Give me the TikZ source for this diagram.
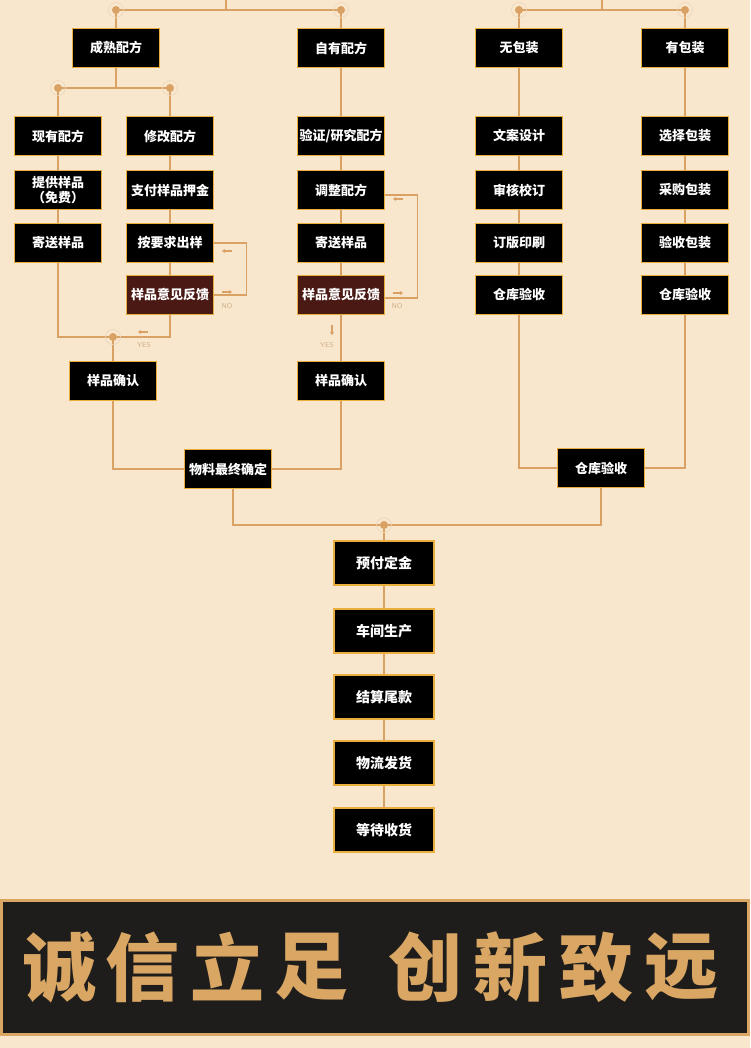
\documentclass[tikz,border=0pt]{standalone}
\usepackage{fontspec}
\newfontfamily\cjk{Noto Sans CJK SC}
\usetikzlibrary{positioning, calc, arrows.meta}

\definecolor{pagebg}{HTML}{F8E7CD}
\definecolor{linkc}{HTML}{D9A264}
\definecolor{boxedge}{HTML}{E9AE3C}
\definecolor{fbred}{HTML}{4A1914}
\definecolor{markc}{HTML}{CFAE86}
\definecolor{bannerbg}{HTML}{1E1D1B}
\definecolor{goldc}{HTML}{D9A664}

\tikzset{
    stepbox/.style={draw=boxedge, fill=black, line width=1.2pt,
        minimum width=87pt, minimum height=39pt, inner sep=0pt,
        text=white, align=center,
        font=\cjk\bfseries\fontsize{13}{14.5}\selectfont},
    fbbox/.style={stepbox, fill=fbred},
    endbox/.style={stepbox, minimum width=100pt, minimum height=44pt,
        font=\cjk\bfseries\fontsize{14}{16}\selectfont},
    link/.style={draw=linkc, line width=1.6pt},
    tick/.style={draw=linkc, line width=1.3pt, -{Stealth[length=3pt,width=4pt]}},
    ynlabel/.style={text=markc, font=\sffamily\fontsize{7}{8}\selectfont}
}

\begin{document}
\begin{tikzpicture}[x=1pt, y=-1pt]

    % Background
    \fill[pagebg] (0,0) rectangle (750,1048);
    \useasboundingbox (0,0) rectangle (750,1048);

    % Formula side
    \node[stepbox] (mature) at (116,48) {成熟配方};
    \node[stepbox] (own)    at (341,48) {自有配方};

    \node[stepbox] (have)   at (58,136)  {现有配方};
    \node[stepbox] (freeS)  at (58,190)  {提供样品\\（免费）};
    \node[stepbox] (sendA)  at (58,243)  {寄送样品};

    \node[stepbox] (modify) at (170,136) {修改配方};
    \node[stepbox] (deposit) at (170,190) {支付样品押金};
    \node[stepbox] (makeA)  at (170,243) {按要求出样};
    \node[fbbox]   (fbA)    at (170,295) {样品意见反馈};
    \node[stepbox] (okA)    at (113,381) {样品确认};

    \node[stepbox] (verify) at (341,136) {验证/研究配方};
    \node[stepbox] (adjust) at (341,190) {调整配方};
    \node[stepbox] (sendB)  at (341,243) {寄送样品};
    \node[fbbox]   (fbB)    at (341,295) {样品意见反馈};
    \node[stepbox] (okB)    at (341,381) {样品确认};

    \node[stepbox] (final)  at (228,469) {物料最终确定};

    % Packing side
    \node[stepbox] (nopack) at (519,48)  {无包装};
    \node[stepbox] (copy)   at (519,136) {文案设计};
    \node[stepbox] (proof)  at (519,190) {审核校订};
    \node[stepbox] (print)  at (519,243) {订版印刷};
    \node[stepbox] (whA)    at (519,295) {仓库验收};

    \node[stepbox] (pack)   at (685,48)  {有包装};
    \node[stepbox] (choose) at (685,136) {选择包装};
    \node[stepbox] (buy)    at (685,190) {采购包装};
    \node[stepbox] (check)  at (685,243) {验收包装};
    \node[stepbox] (whB)    at (685,295) {仓库验收};

    \node[stepbox] (whC)    at (601,468) {仓库验收};

    % Production chain
    \node[endbox] (pay)   at (384,563) {预付定金};
    \node[endbox] (prod)  at (384,631) {车间生产};
    \node[endbox] (bill)  at (384,697) {结算尾款};
    \node[endbox] (ship)  at (384,763) {物流发货};
    \node[endbox] (wait)  at (384,830) {等待收货};

    % Forks
    \coordinate (topA)  at (226,0);
    \coordinate (forkA) at (226,10);
    \coordinate (topB)  at (602,0);
    \coordinate (forkB) at (602,10);
    \coordinate (forkM) at (116,88);
    \coordinate (yesA)  at (113,337);
    \coordinate (forkC) at (384,525);

    \draw[link] (topA) -- (forkA);
    \draw[link] (mature.north) |- (forkA) -| (own.north);
    \draw[link] (topB) -- (forkB);
    \draw[link] (nopack.north) |- (forkB) -| (pack.north);

    \draw[link] (mature) -- (forkM);
    \draw[link] (have.north) |- (forkM) -| (modify.north);

    % Columns
    \draw[link] (have) -- (freeS) -- (sendA);
    \draw[link] (modify) -- (deposit) -- (makeA) -- (fbA);
    \draw[link] (own) -- (verify) -- (adjust) -- (sendB) -- (fbB) -- (okB);
    \draw[link] (nopack) -- (copy) -- (proof) -- (print) -- (whA);
    \draw[link] (pack) -- (choose) -- (buy) -- (check) -- (whB);

    % Feedback loops
    \draw[link, line width=1.2pt] (makeA.east) -- ++(32,0) |- (fbA.east);
    \draw[link, line width=1.2pt] ([yshift=-5pt]adjust.east) -- ++(32,0)
        |- ([yshift=-3pt]fbB.east);

    % Merges
    \draw[link] (sendA.south) |- (yesA) -| (fbA.south);
    \draw[link] (yesA) -- (okA);
    \draw[link] (okA.south) |- (final.west);
    \draw[link] (okB.south) |- (final.east);
    \draw[link] (whA.south) |- (whC.west);
    \draw[link] (whB.south) |- (whC.east);
    \draw[link] ([xshift=5pt]final.south) |- (forkC) -| (whC.south);
    \draw[link] (forkC) -- (pay) -- (prod) -- (bill) -- (ship) -- (wait);

    % Joint dots
    \foreach \p in {(116,10), (341,10), (519,10), (685,10),
                    (58,88), (170,88), (113,337), (384,525)}{
        \fill[linkc] \p circle (4pt);
        \draw[linkc!45, line width=0.6pt] \p circle (7.5pt);
    }

    % Yes / no marks
    \draw[tick] (232,251) -- (222,251);
    \draw[tick] (222,292) -- (232,292);
    \node[ynlabel] at (227,306) {NO};
    \draw[tick] (148,332) -- (138,332);
    \node[ynlabel] at (144,345) {YES};
    \draw[tick] (403,199) -- (393,199);
    \draw[tick] (393,293) -- (403,293);
    \node[ynlabel] at (397,306) {NO};
    \draw[tick] (332,325) -- (332,335);
    \node[ynlabel] at (327,345) {YES};

    % Banner
    \fill[goldc] (0,899) rectangle (750,1036);
    \fill[bannerbg] (3,902) rectangle (747,1033);
    \foreach \ch/\x in {诚/59, 信/142, 立/227, 足/311, 创/425, 新/510, 致/596, 远/681}{
        \node[text=goldc, font=\cjk\bfseries\fontsize{74}{74}\selectfont]
            at (\x,967) {\ch};
    }

\end{tikzpicture}
\end{document}
